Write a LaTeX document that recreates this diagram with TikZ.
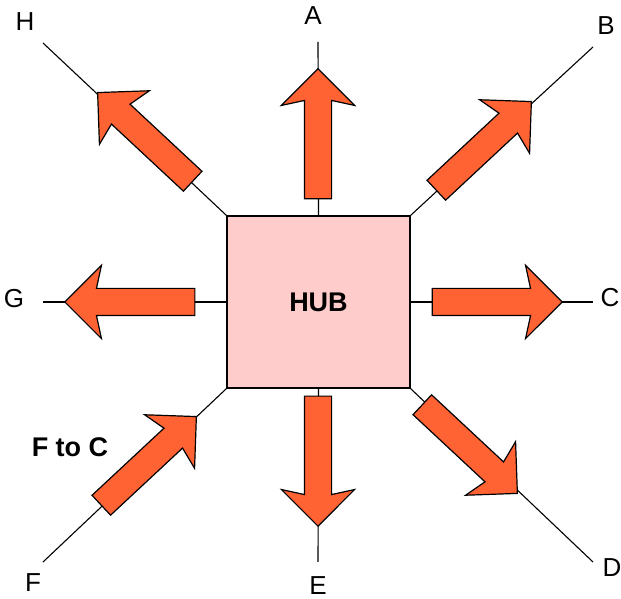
\documentclass[tikz,border=0pt]{standalone}
\usepackage{tikz}
\usetikzlibrary{shapes.arrows, positioning}
\usepackage{fontspec}
\setmainfont{Liberation Sans}
\definecolor{hubpink}{RGB}{255,204,204}
\definecolor{flowred}{RGB}{255,99,51}
\tikzstyle{hub} = [rectangle, minimum width=183pt, minimum height=172pt, draw=black, line width=1.4pt, fill=hubpink, font=\fontsize{27}{30}\selectfont\bfseries]
\tikzstyle{spoke} = [line width=1.1pt]
\tikzstyle{flow} = [single arrow, draw=black, line width=1.2pt, fill=flowred, minimum height=130pt, inner sep=0pt, inner ysep=13pt, single arrow head extend=23pt, single arrow tip angle=90, single arrow head indent=5pt, anchor=tip]
\tikzstyle{port} = [font=\fontsize{26}{28}\selectfont]

\begin{document}
\begin{tikzpicture}[x=1pt, y=1pt]
\useasboundingbox (0,0) rectangle (621,599);

% Hub
\node[hub] (hub) at (318.5,297) {HUB};

% Port labels
\node[port] (lblA) at (313,583) {A};
\node[port] (lblB) at (606,573) {B};
\node[port] (lblC) at (610,301) {C};
\node[port] (lblD) at (612,31) {D};
\node[port] (lblE) at (318,13) {E};
\node[port] (lblF) at (33,16) {F};
\node[port] (lblG) at (14,300) {G};
\node[port] (lblH) at (25,577) {H};
\node[port, font=\fontsize{27}{30}\selectfont\bfseries] (ftoc) at (70,152) {F to C};

% Line ends
\coordinate (endA) at (318,557);
\coordinate (endB) at (593,552);
\coordinate (endC) at (593,297);
\coordinate (endD) at (593,37);
\coordinate (endE) at (318,37);
\coordinate (endF) at (43,37);
\coordinate (endG) at (43,297);
\coordinate (endH) at (43,556);

% Lines
\draw[spoke] (hub.north) -- (endA);
\draw[spoke] (hub.north east) -- (endB);
\draw[spoke] (hub.east) -- (endC);
\draw[spoke] (hub.south east) -- (endD);
\draw[spoke] (hub.south) -- (endE);
\draw[spoke] (hub.south west) -- (endF);
\draw[spoke] (hub.west) -- (endG);
\draw[spoke] (hub.north west) -- (endH);

% Arrows
\node[flow, rotate=90] (toA) at (318,531) {};
\node[flow, rotate=43] (toB) at (532,498) {};
\node[flow, rotate=0] (toC) at (563,297) {};
\node[flow, rotate=-43] (toD) at (518,105) {};
\node[flow, rotate=-90] (toE) at (318,72) {};
\node[flow, rotate=43] (fromF) at (197,183) {};
\node[flow, rotate=180] (toG) at (64,297) {};
\node[flow, rotate=137] (toH) at (97,507) {};

\end{tikzpicture}
\end{document}
